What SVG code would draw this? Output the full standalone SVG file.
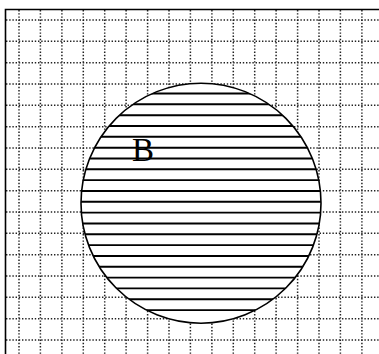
<svg xmlns="http://www.w3.org/2000/svg" width="379" height="354" viewBox="0 0 379 354">
<style>
.grid{stroke:#222;stroke-width:1.5;stroke-dasharray:1.4 1.8;fill:none}
.hatch{stroke:#000;stroke-width:1.9}
</style>
<defs>
<clipPath id="cc"><circle cx="201" cy="203.2" r="120"/></clipPath>
</defs>
<rect width="379" height="354" fill="#fff"/>
<g id="grid">
<path class="grid" d="M19 10V354M40.4 10V354M61.9 10V354M83.3 10V354M104.7 10V354M126.1 10V354M147.6 10V354M169 10V354M190.4 10V354M211.9 10V354M233.3 10V354M254.7 10V354M276.1 10V354M297.6 10V354M319 10V354M340.4 10V354M361.9 10V354"/>
<path class="grid" d="M6 20H379M6 41.3H379M6 62.7H379M6 84H379M6 105.3H379M6 126.7H379M6 148H379M6 169.3H379M6 190.7H379M6 212H379M6 233.3H379M6 254.7H379M6 276H379M6 297.3H379M6 318.7H379M6 340H379"/>
</g>
<path d="M5.5 354V9.5H379" fill="none" stroke="#000" stroke-width="1.6"/>
<g id="B">
<circle cx="201" cy="203.2" r="120" fill="#fff"/>
<g clip-path="url(#cc)">
<path class="hatch" d="M80 93.5H322M80 104.3H322M80 115.2H322M80 126H322M80 136.8H322M80 147.7H322M80 158.5H322M80 169.3H322M80 180.1H322M80 191H322M80 201.8H322M80 212.6H322M80 223.5H322M80 234.3H322M80 245.1H322M80 256H322M80 266.8H322M80 277.6H322M80 288.4H322M80 299.3H322M80 310.1H322"/>
</g>
<circle cx="201" cy="203.2" r="120" fill="none" stroke="#000" stroke-width="1.6"/>
<text x="132" y="161" font-family="Liberation Serif, serif" font-size="33" fill="#000">B</text>
</g>
</svg>
